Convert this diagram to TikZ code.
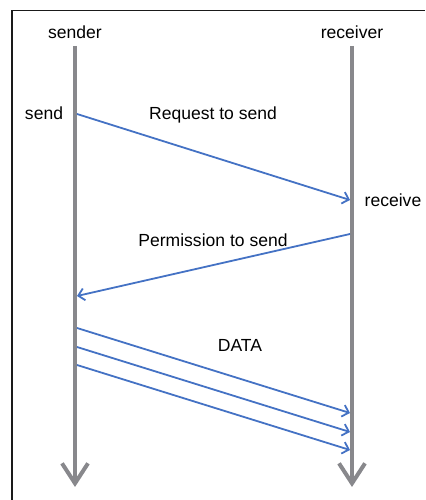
\documentclass[tikz,border=0pt]{standalone}
\usepackage{fontspec}
\setmainfont{Liberation Sans}
\usetikzlibrary{arrows.meta, positioning, calc}
\usepackage{xcolor}
\definecolor{LineGray}{HTML}{88888C}
\definecolor{MsgBlue}{HTML}{4472C4}
\definecolor{FrameBlack}{HTML}{1A1A1A}
\tikzset{
    % Lifeline and message styles
    lifeline/.style={
        -{Straight Barb[length=20bp,width=26bp]},
        line width=4bp,
        draw=LineGray
    },
    message/.style={
        -{Straight Barb[length=6bp,width=12bp]},
        line width=1.8bp,
        draw=MsgBlue
    },
    % Text styles
    label/.style={
        font=\fontsize{17.6}{20}\selectfont,
        inner sep=0pt,
        text=black
    }
}
\begin{document}
\begin{tikzpicture}[x=1bp,y=1bp]
    \useasboundingbox (0,0) rectangle (425,500);
    \draw[line width=1.5bp, draw=FrameBlack] (12,0) -- (12,489.5) -- (425,489.5);

    % lifelines
    \coordinate (sTop) at (75,454);
    \coordinate (sBot) at (75,13);
    \coordinate (rTop) at (352,454);
    \coordinate (rBot) at (352,13);
    \draw[lifeline] (sTop) -- (sBot);
    \draw[lifeline] (rTop) -- (rBot);

    \node[label] (sender) at (75,468) {sender};
    \node[label] (receiver) at (352,468) {receiver};
    \node[label] (send) at (44,387) {send};
    \node[label] (receive) at (393,300) {receive};

    % message end points
    \coordinate (req1) at (77,386);
    \coordinate (req2) at (350,300);
    \coordinate (perm1) at (350,266);
    \coordinate (perm2) at (77,204);
    \coordinate (d1a) at (77,172);
    \coordinate (d1b) at (350,87);
    \coordinate (d2a) at (77,153);
    \coordinate (d2b) at (350,68);
    \coordinate (d3a) at (77,135);
    \coordinate (d3b) at (350,50);

    \draw[message] (req1) -- (req2);
    \draw[message] (perm1) -- (perm2);
    \draw[message] (d1a) -- (d1b);
    \draw[message] (d2a) -- (d2b);
    \draw[message] (d3a) -- (d3b);

    \node[label] (reqlabel) at (213,385) {Request to send};
    \node[label] (permlabel) at (213,260) {Permission to send};
    \node[label] (datalabel) at (240,155) {DATA};
\end{tikzpicture}
\end{document}
